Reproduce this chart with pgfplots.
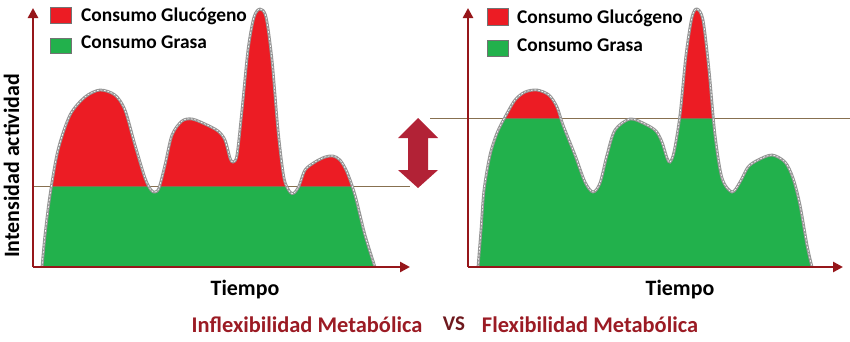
\documentclass[border=0pt]{standalone}
\usepackage{fontspec}
\setmainfont{Carlito}
\usepackage{pgfplots}
\usepackage{pgfplotstable}
\pgfplotsset{compat=1.18}
\usetikzlibrary{arrows.meta}
\definecolor{redfill}{RGB}{236,28,36}
\definecolor{greenfill}{RGB}{34,177,76}
\definecolor{axisred}{RGB}{150,22,26}
\definecolor{thrcol}{RGB}{135,112,80}
\definecolor{titlered}{RGB}{155,27,36}
\definecolor{vscol}{RGB}{110,25,30}
\definecolor{arrowred}{RGB}{178,34,54}
\definecolor{outline}{RGB}{150,150,150}

\pgfplotstableread{
x y
9 0
12 32
17 72
25 117
37 152
52 170
67 177
82 172
92 157
102 122
112 89
118 77
122 75
126 79
132 102
139 132
149 146
159 148
172 143
185 136
192 127
197 109
200 105
204 112
209 157
215 217
221 250
227 258
233 250
239 207
245 137
251 89
257 75
261 74
266 81
272 97
282 105
292 110
300 111
307 107
314 95
322 72
332 32
342 0
}\leftcurve

\pgfplotstableread{
x y
10 0
13 37
16 77
22 112
29 134
37 150
47 167
57 175
69 177
81 172
89 160
95 142
107 112
117 85
125 75
132 84
139 112
147 137
162 148
177 143
188 136
194 125
199 109
202 105
206 115
212 152
218 212
224 250
229 258
235 247
241 197
247 132
254 89
264 75
272 85
280 100
290 107
304 112
317 105
325 89
332 62
339 22
344 0
}\rightcurve

\pgfplotsset{
  panel/.style={x=1bp, y=1bp, anchor=origin, clip=false, axis lines=left,
    axis on top, xtick=\empty, ytick=\empty, ymin=0, ymax=259,
    axis line style={draw=axisred, line width=2.6bp, -{Triangle[length=10bp,width=10bp]}}},
  curveout/.style={draw=outline, line width=2.8bp, smooth},
  curvedash/.style={draw=white, line width=0.6bp, dash pattern=on 2bp off 1.5bp, smooth},
}

\begin{document}
\begin{tikzpicture}
\useasboundingbox (0,0) rectangle (850bp,-342bp);

% Left panel
\begin{axis}[panel, at={(33bp,-267bp)}, xmin=0, xmax=377]
\addplot[fill=redfill, draw=none, smooth] table {\leftcurve} \closedcycle;
\begin{scope}
\clip (axis cs:0,0) rectangle (axis cs:377,81);
\addplot[fill=greenfill, draw=none, smooth] table {\leftcurve} \closedcycle;
\end{scope}
\addplot[thrcol, line width=0.9bp] coordinates {(0,81) (377,81)};
\addplot[curveout] table {\leftcurve};
\addplot[curvedash] table {\leftcurve};
\end{axis}

% Right panel
\begin{axis}[panel, at={(468bp,-267bp)}, xmin=0, xmax=375]
\addplot[fill=redfill, draw=none, smooth] table {\rightcurve} \closedcycle;
\begin{scope}
\clip (axis cs:0,0) rectangle (axis cs:375,149);
\addplot[fill=greenfill, draw=none, smooth] table {\rightcurve} \closedcycle;
\end{scope}
\addplot[thrcol, line width=0.9bp] coordinates {(-38,149) (382,149)};
\addplot[curveout] table {\rightcurve};
\addplot[curvedash] table {\rightcurve};
\end{axis}

\begin{scope}[x=1bp, y=-1bp]
% legends
\draw[fill=redfill, draw=black!55, line width=0.6bp] (50,7) rectangle (71,23);
\draw[fill=greenfill, draw=black!55, line width=0.6bp] (50,38) rectangle (71,53);
\node[anchor=base west, inner sep=0pt, font=\bfseries\fontsize{19.5}{19.5}\selectfont] at (81,21) {Consumo Glucógeno};
\node[anchor=base west, inner sep=0pt, font=\bfseries\fontsize{19.5}{19.5}\selectfont] at (81,48) {Consumo Grasa};
\draw[fill=redfill, draw=black!55, line width=0.6bp] (487,8) rectangle (508,25);
\draw[fill=greenfill, draw=black!55, line width=0.6bp] (487,40) rectangle (508,56);
\node[anchor=base west, inner sep=0pt, font=\bfseries\fontsize{19.5}{19.5}\selectfont] at (517,23) {Consumo Glucógeno};
\node[anchor=base west, inner sep=0pt, font=\bfseries\fontsize{19.5}{19.5}\selectfont] at (517,51) {Consumo Grasa};
% double arrow
\fill[arrowred] (418,118) -- (438,138) -- (428,138) -- (428,170) -- (438,170) -- (418,188) -- (398,170) -- (408,170) -- (408,138) -- (398,138) -- cycle;
% labels
\node[rotate=90, anchor=base, inner sep=0pt, font=\bfseries\fontsize{22}{22}\selectfont] at (19,166) {Intensidad actividad};
\node[anchor=base, inner sep=0pt, font=\bfseries\fontsize{22}{22}\selectfont] at (245,295) {Tiempo};
\node[anchor=base, inner sep=0pt, font=\bfseries\fontsize{22}{22}\selectfont] at (680,295) {Tiempo};
\node[anchor=base, inner sep=0pt, text=titlered, font=\bfseries\fontsize{22.5}{22.5}\selectfont] at (307,332) {Inflexibilidad Metabólica};
\node[anchor=base, inner sep=0pt, text=vscol, font=\bfseries\fontsize{21}{21}\selectfont] at (454,330) {VS};
\node[anchor=base, inner sep=0pt, text=titlered, font=\bfseries\fontsize{22.5}{22.5}\selectfont] at (590,332) {Flexibilidad Metabólica};
\end{scope}
\end{tikzpicture}
\end{document}
